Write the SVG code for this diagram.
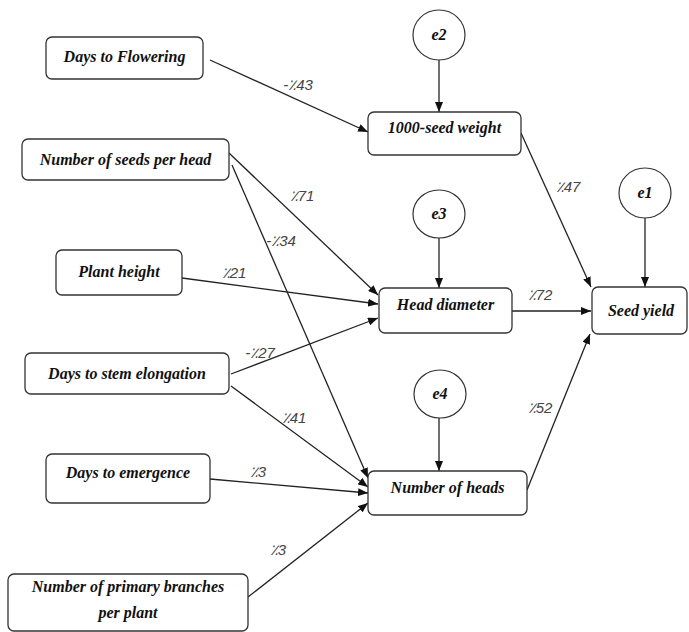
<svg xmlns="http://www.w3.org/2000/svg" width="689" height="632" viewBox="0 0 689 632">
<style>
.box{fill:#fff;stroke:#333;stroke-width:1.3}
.circ{fill:#fff;stroke:#333;stroke-width:1.2}
.nt{font-family:"Liberation Serif",serif;font-weight:bold;font-style:italic;font-size:16px;fill:#111;text-anchor:middle}
.lb{font-family:"Liberation Sans","DejaVu Sans",sans-serif;font-style:italic;font-size:15px;fill:#444;text-anchor:middle}
.ln{stroke:#222;stroke-width:1.3;fill:none;marker-end:url(#ah)}
</style>
<defs>
<marker id="ah" viewBox="0 0 10 8" refX="10" refY="4" markerWidth="10" markerHeight="8" markerUnits="userSpaceOnUse" orient="auto">
<path d="M0,0 L10,4 L0,8 Z" fill="#111"/>
</marker>
</defs>
<rect width="689" height="632" fill="#fff"/>
<g id="connectors">
<line class="ln" x1="439" y1="60" x2="439" y2="112"/>
<line class="ln" x1="439" y1="238" x2="439" y2="288"/>
<line class="ln" x1="645" y1="218" x2="645" y2="287"/>
<line class="ln" x1="439" y1="418" x2="439" y2="471"/>
<line class="ln" x1="210" y1="60" x2="368" y2="132"/>
<line class="ln" x1="521" y1="133" x2="591" y2="287"/>
<line class="ln" x1="229" y1="153" x2="378" y2="295"/>
<line class="ln" x1="232" y1="165" x2="368" y2="478"/>
<line class="ln" x1="182" y1="278" x2="378" y2="304"/>
<line class="ln" x1="231" y1="374" x2="378" y2="318"/>
<line class="ln" x1="231" y1="386" x2="368" y2="487"/>
<line class="ln" x1="210" y1="479" x2="368" y2="493"/>
<line class="ln" x1="248" y1="597" x2="368" y2="503"/>
<line class="ln" x1="512" y1="311" x2="591" y2="311"/>
<line class="ln" x1="527" y1="490" x2="590" y2="334"/>
</g>
<g id="labels">
<text class="lb" x="298" y="90">-٪43</text>
<text class="lb" x="302" y="201">٪71</text>
<text class="lb" x="281" y="246">-٪34</text>
<text class="lb" x="234" y="278">٪21</text>
<text class="lb" x="568" y="192">٪47</text>
<text class="lb" x="540" y="300">٪72</text>
<text class="lb" x="260" y="358">-٪27</text>
<text class="lb" x="294" y="423">٪41</text>
<text class="lb" x="258" y="477">٪3</text>
<text class="lb" x="278" y="555">٪3</text>
<text class="lb" x="540" y="413">٪52</text>
</g>
<g id="n-flowering"><rect class="box" x="46" y="37" width="157" height="42" rx="6"/><text class="nt" x="124.5" y="62">Days to Flowering</text></g>
<g id="n-seeds"><rect class="box" x="22" y="139" width="207" height="41" rx="6"/><text class="nt" x="125.5" y="165">Number of seeds per head</text></g>
<g id="n-height"><rect class="box" x="56" y="250" width="126" height="45" rx="6"/><text class="nt" x="119" y="277">Plant height</text></g>
<g id="n-stem"><rect class="box" x="25" y="353" width="204" height="41" rx="6"/><text class="nt" x="127" y="379">Days to stem elongation</text></g>
<g id="n-emergence"><rect class="box" x="46" y="454" width="164" height="49" rx="6"/><text class="nt" x="128" y="478">Days to emergence</text></g>
<g id="n-branches"><rect class="box" x="8" y="574" width="240" height="57" rx="6"/><text class="nt" x="128" y="592">Number of primary branches</text><text class="nt" x="128" y="618">per plant</text></g>
<g id="n-weight"><rect class="box" x="368" y="112" width="153" height="43" rx="6"/><text class="nt" x="444.5" y="133">1000-seed weight</text></g>
<g id="n-diameter"><rect class="box" x="379" y="288" width="133" height="45" rx="6"/><text class="nt" x="445.5" y="310">Head diameter</text></g>
<g id="n-yield"><rect class="box" x="592" y="287" width="95" height="47" rx="6"/><text class="nt" x="641" y="316">Seed yield</text></g>
<g id="n-heads"><rect class="box" x="368" y="471" width="159" height="44" rx="6"/><text class="nt" x="447.5" y="493">Number of heads</text></g>
<g id="e2"><ellipse class="circ" cx="439" cy="35" rx="26" ry="25"/><text class="nt" x="439" y="40">e2</text></g>
<g id="e3"><ellipse class="circ" cx="439" cy="214" rx="26" ry="24"/><text class="nt" x="439" y="219">e3</text></g>
<g id="e1"><ellipse class="circ" cx="645" cy="193" rx="26" ry="25"/><text class="nt" x="645" y="198">e1</text></g>
<g id="e4"><ellipse class="circ" cx="440" cy="394" rx="26" ry="24"/><text class="nt" x="440" y="399">e4</text></g>
</svg>
